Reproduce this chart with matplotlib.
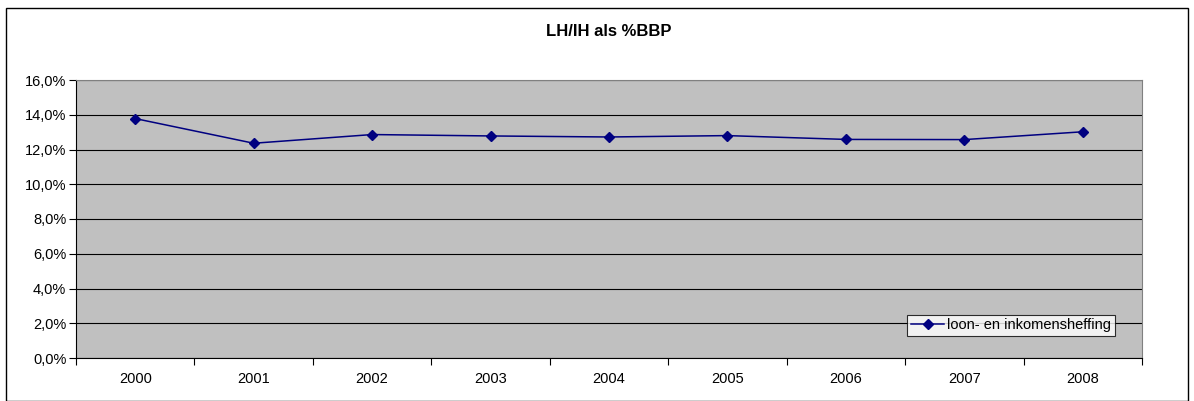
import matplotlib.pyplot as plt
from matplotlib.patches import Rectangle
from matplotlib.ticker import FuncFormatter

# ── data ──
years  = ["2000", "2001", "2002", "2003", "2004", "2005", "2006", "2007", "2008"]
lh_ih  = [13.78, 12.36, 12.86, 12.78, 12.72, 12.80, 12.58, 12.57, 13.02]
yticks = [0, 2, 4, 6, 8, 10, 12, 14, 16]

plt.rcParams["font.family"] = ["Liberation Sans", "DejaVu Sans"]

W, H = 1194, 401
fig = plt.figure(figsize=(W / 100, H / 100), dpi=100)

# outer chart border
fig.patches.append(Rectangle((6 / W, 0), 1182 / W, (H - 8) / H, transform=fig.transFigure,
                             fill=False, edgecolor="black", linewidth=1.0))

ax = fig.add_axes([76 / W, 1 - 358 / H, (1142 - 76) / W, (358 - 80) / H])
ax.set_facecolor("#c0c0c0")

x = list(range(len(years)))
ax.plot(x, lh_ih, color="#000080", linewidth=1.1, marker="D", markersize=5,
        label="loon- en inkomensheffing", zorder=3)

ax.set_xlim(-0.5, len(years) - 0.5)
ax.set_ylim(0, 16)
ax.set_yticks(yticks)
ax.yaxis.set_major_formatter(FuncFormatter(lambda v, p: f"{v:.1f}%".replace(".", ",")))
ax.yaxis.grid(True, color="black", linewidth=0.8)
ax.set_axisbelow(True)

# category ticks sit between the labels
ax.set_xticks([i - 0.5 for i in range(len(years) + 1)])
ax.set_xticklabels([])
ax.set_xticks(x, minor=True)
ax.set_xticklabels(years, minor=True)
ax.tick_params(axis="x", which="minor", length=0, pad=10, labelsize=10.5)
ax.tick_params(axis="x", which="major", length=5, direction="out", width=0.8)
ax.tick_params(axis="y", length=5, direction="out", width=0.8, labelsize=10.5, pad=2)

for s in ["left", "bottom"]:
    ax.spines[s].set_color("black")
    ax.spines[s].set_linewidth(0.8)
for s in ["top", "right"]:
    ax.spines[s].set_color("#808080")
    ax.spines[s].set_linewidth(0.8)

fig.text((76 + 1142) / 2 / W, 1 - 31 / H, "LH/IH als %BBP", ha="center", va="center",
         fontsize=12, fontweight="bold")

leg = ax.legend(loc="lower right", bbox_to_anchor=(1115 / W, 1 - 336 / H),
                bbox_transform=fig.transFigure, fontsize=10.5, frameon=True,
                fancybox=False, borderpad=0.25, handlelength=2.3, handletextpad=0.2,
                borderaxespad=0)
leg.get_frame().set_edgecolor("black")
leg.get_frame().set_facecolor("white")
leg.get_frame().set_linewidth(0.8)

fig.savefig("out.png", dpi=100)
